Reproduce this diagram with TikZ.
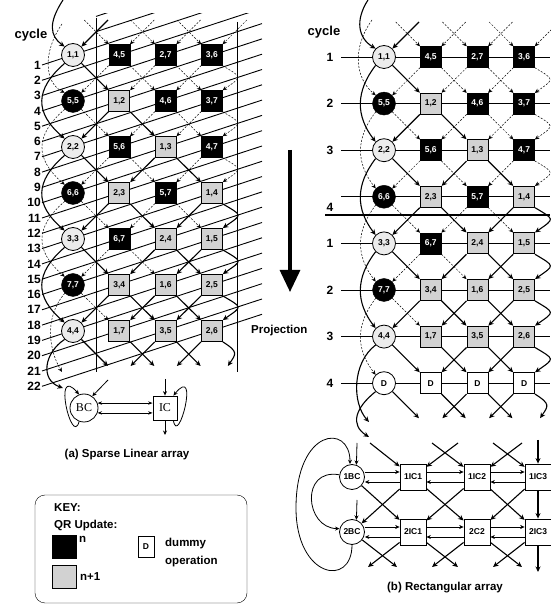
\documentclass[tikz,border=0pt]{standalone}
\usepackage{fontspec}
\setmainfont{Liberation Serif}
\setsansfont{Liberation Sans}
\usetikzlibrary{arrows.meta}
\tikzset{
  cell/.style = {align=center, inner sep=0pt, text centered,
    font=\sffamily\bfseries\fontsize{8.5}{8.5}\selectfont},
  wcirc/.style = {cell, circle, draw=black, fill=gray!15, minimum size=23pt, thick},% boundary cell, update n+1
  bcirc/.style = {cell, circle, draw=black, fill=black, text=white, minimum size=23pt},% boundary cell, update n
  dcirc/.style = {cell, circle, draw=black, fill=white, minimum size=23pt, thick},% dummy boundary cell
  bbox/.style = {cell, rectangle, draw=black, fill=black, text=white, minimum size=21pt},% internal cell, update n
  gbox/.style = {cell, rectangle, draw=black, fill=gray!35, minimum size=21pt, thick},% internal cell, update n+1
  dbox/.style = {cell, rectangle, draw=black, fill=white, minimum size=21pt, thick},% dummy internal cell
  uline/.style = {line width=1.1pt, -{Stealth[length=5.5pt,width=5pt]}},
  nline/.style = {line width=0.5pt, dash pattern=on 2pt off 1.5pt,
    -{Stealth[length=4.5pt,width=4pt]}},
  wcirc-out/.style = {uline}, dcirc-out/.style = {uline},
  gbox-out/.style = {uline}, dbox-out/.style = {uline},
  bcirc-out/.style = {nline}, bbox-out/.style = {nline},
  cyc/.style = {inner sep=1pt, font=\sffamily\bfseries\fontsize{12}{12}\selectfont},
  cline/.style = {line width=0.9pt},
  captxt/.style = {inner sep=1pt, font=\sffamily\bfseries\fontsize{11.5}{13}\selectfont},
  bcnode/.style = {circle, draw=black, thick, minimum size=25pt, inner sep=0pt,
    font=\sffamily\bfseries\fontsize{8.5}{9}\selectfont},
  icnode/.style = {rectangle, draw=black, thick, fill=white, minimum size=26pt, inner sep=0pt,
    font=\sffamily\bfseries\fontsize{8.5}{9}\selectfont},
  harr/.style = {line width=0.6pt, -{Stealth[length=4.5pt,width=4pt]}}
}
% row / kind / label for the four columns
\def\cells{1/wcirc/{1,1}/bbox/{4,5}/bbox/{2,7}/bbox/{3,6},
  2/bcirc/{5,5}/gbox/{1,2}/bbox/{4,6}/bbox/{3,7},
  3/wcirc/{2,2}/bbox/{5,6}/gbox/{1,3}/bbox/{4,7},
  4/bcirc/{6,6}/gbox/{2,3}/bbox/{5,7}/gbox/{1,4},
  5/wcirc/{3,3}/bbox/{6,7}/gbox/{2,4}/gbox/{1,5},
  6/bcirc/{7,7}/gbox/{3,4}/gbox/{1,6}/gbox/{2,5},
  7/wcirc/{4,4}/gbox/{1,7}/gbox/{3,5}/gbox/{2,6},
  8/dcirc/D/dbox/D/dbox/D/dbox/D}

\begin{document}
\begin{tikzpicture}[x=1pt, y=1pt]
  \useasboundingbox (0,0) rectangle (550,608);

  % (a) cycle lines
  \node[cyc, font=\sffamily\bfseries\fontsize{13}{12}\selectfont] (cyclea) at (31,573) {cycle};
  \begin{scope}
    \clip (0,214) rectangle (265,594);
    \foreach \k in {1,...,22} {
      \pgfmathsetmacro\yk{543-15.3*(\k-1)}
      \node[cyc, anchor=east] (cy\k) at (42,\yk) {\k};
      \draw[cline] (cy\k.east) -- ++(220,72);
    }
    \foreach \k in {0,-1} {
      \pgfmathsetmacro\yk{543-15.3*(\k-1)+18}
      \draw[cline] (96,\yk) -- ++(166,54);
    }
  \end{scope}
  \draw[cline] (96,590) -- (96,236);
  \draw[cline] (237,586) -- (237,236);

  % (b) cycle lines
  \foreach \r in {1,...,8} {
    \pgfmathsetmacro\yy{551-46.6*(\r-1)}
    \draw[cline] (341,\yy) -- (550,\yy);
  }
  \draw[line width=1.8pt] (325,393) -- (550,393);
  \node[cyc, font=\sffamily\bfseries\fontsize{13}{12}\selectfont] (cycleb) at (324,576) {cycle};
  \foreach \r/\n in {1/1,2/2,3/3,5/1,6/2,7/3,8/4} {
    \pgfmathsetmacro\yy{551-46.6*(\r-1)}
    \node[cyc] (cb\r) at (330,\yy) {\n};
  }
  \node[cyc] (cb4) at (330,401) {4};

  % cells of both arrays
  \foreach \p/\xo/\dx/\yo/\dy/\last in {L/73/46.3/553/46/7, R/384/46.7/551/46.6/8} {
    \foreach \r/\ka/\ta/\kb/\tb/\kc/\tc/\kd/\td in \cells {
      \ifnum\r>\last\else
        \pgfmathsetmacro\yy{\yo-\dy*(\r-1)}
        \node[\ka] (\p\r-0) at (\xo,\yy) {\ta};
        \node[\kb] (\p\r-1) at ({\xo+\dx},\yy) {\tb};
        \node[\kc] (\p\r-2) at ({\xo+2*\dx},\yy) {\tc};
        \node[\kd] (\p\r-3) at ({\xo+3*\dx},\yy) {\td};
      \fi
    }
  }

  % inputs at the top
  \foreach \p/\xo/\dx/\yo in {L/73/46.3/553, R/384/46.7/551} {
    \foreach \c in {0,1,2,3} {
      \coordinate (\p-i\c l) at ({\xo+\dx*\c-35},{\yo+35});
      \coordinate (\p-i\c r) at ({\xo+\dx*\c+35},{\yo+35});
    }
    \draw[uline] (\p-i0r) -- (\p1-0);
    \foreach \c in {1,2,3} {
      \draw[nline] (\p-i\c l) -- (\p1-\c);
      \draw[nline] (\p-i\c r) -- (\p1-\c);
    }
  }
  \coordinate (L-top) at (63,608);
  \coordinate (L-topd) at (62,584);
  \coordinate (R-top) at (368,608);
  \coordinate (R-topd) at (372,588);
  \draw[uline] (L-top) .. controls (48,585) and (50,572) .. (L1-0.north west);
  \draw[nline] (L-topd) .. controls (42,555) and (45,525) .. (L2-0.north west);
  \draw[uline] (R-top) .. controls (355,588) and (358,570) .. (R1-0.north west);
  \draw[nline] (R-topd) .. controls (352,560) and (355,530) .. (R2-0.north west);

  % data flow between cells
  \foreach \p/\xo/\dx/\yo/\dy/\last/\bx in {L/73/46.3/553/46/7/-30, R/384/46.7/551/46.6/8/-20} {
    \foreach \r/\ka/\ta/\kb/\tb/\kc/\tc/\kd/\td in \cells {
      \pgfmathtruncatemacro\rn{\r+1}
      \pgfmathtruncatemacro\rnn{\r+2}
      \ifnum\r<\last
        \draw[\ka-out] (\p\r-0) -- (\p\rn-1);
        \ifnum\rn<8 \draw[\kb-out] (\p\r-1) -- (\p\rn-0); \fi
        \draw[\kb-out] (\p\r-1) -- (\p\rn-2);
        \draw[\kc-out] (\p\r-2) -- (\p\rn-1);
        \draw[\kc-out] (\p\r-2) -- (\p\rn-3);
        \draw[\kd-out] (\p\r-3) -- (\p\rn-2);
        \draw[\kd-out] (\p\r-3.south east) .. controls +(20,-12) and +(20,14) .. (\p\rn-3.north east);
      \fi
      \ifnum\rnn>\last\else
        \draw[\ka-out] (\p\r-0.south west) .. controls +(\bx,-26) and +(\bx,26) .. (\p\rnn-0.north west);
      \fi
      \ifnum\r=\last
        \pgfmathsetmacro\ye{\yo-\dy*(\r-1)-35}
        \coordinate (\p-o0r) at ({\xo+35},\ye);
        \coordinate (\p-o1r) at ({\xo+\dx+35},\ye);
        \coordinate (\p-o2l) at ({\xo+2*\dx-35},\ye);
        \coordinate (\p-o2r) at ({\xo+2*\dx+35},\ye);
        \coordinate (\p-o3l) at ({\xo+3*\dx-35},\ye);
        \coordinate (\p-o3c) at ({\xo+3*\dx+16},\ye);
        \draw[\ka-out] (\p\r-0) -- (\p-o0r);
        \draw[\kb-out] (\p\r-1) -- (\p-o1r);
        \draw[\kc-out] (\p\r-2) -- (\p-o2l);
        \draw[\kc-out] (\p\r-2) -- (\p-o2r);
        \draw[\kd-out] (\p\r-3) -- (\p-o3l);
        \draw[\kd-out] (\p\r-3.south east) .. controls +(16,-10) and +(8,12) .. (\p-o3c);
      \fi
    }
  }
  \coordinate (L-c1) at (62,236);
  \coordinate (L-c2) at (63,220);
  \coordinate (R-c1) at (369,186);
  \coordinate (R-c2) at (369,171);
  \draw[nline] (L6-0.south west) .. controls (43,289) and (50,256) .. (L-c1);
  \draw[uline] (L7-0.south west) .. controls (44,255) and (40,228) .. (L-c2);
  \draw[uline] (R7-0.south west) .. controls (352,245) and (352,205) .. (R-c1);
  \draw[uline] (R8-0.south west) .. controls (355,200) and (350,183) .. (R-c2);

  % (a) sparse linear array
  \node[circle, draw=black, thick, minimum size=28pt, inner sep=0pt,
    font=\rmfamily\fontsize{12}{12}\selectfont] (BC) at (84,200) {BC};
  \node[rectangle, draw=black, thick, minimum size=24pt, inner sep=0pt,
    font=\rmfamily\fontsize{12}{12}\selectfont] (IC) at (165,200) {IC};
  \draw[line width=0.8pt, {Stealth[length=4.5pt]}-{Stealth[length=4.5pt]}] (BC.20) -- (BC.20 -| IC.west);
  \draw[line width=0.8pt, {Stealth[length=4.5pt]}-{Stealth[length=4.5pt]}] (BC.-20) -- (BC.-20 -| IC.west);
  \draw[harr, line width=0.8pt] (BC.250) .. controls (72,160) and (52,245) .. (BC.110);
  \draw[harr, line width=0.8pt] ([xshift=-4pt]IC.south east) .. controls (178,160) and (200,245) .. ([xshift=-4pt]IC.north east);
  \coordinate (BC-in) at (108,228);
  \coordinate (IC-in) at (165,229);
  \coordinate (IC-out) at (165,173);
  \draw[harr, line width=0.8pt] (BC-in) -- (BC.55);
  \draw[harr, line width=0.8pt] (IC-in) -- (IC.north);
  \draw[harr, line width=0.8pt] (IC.south) -- (IC-out);
  \node[captxt] (capa) at (127,153) {(a) Sparse Linear array};

  % projection
  \coordinate (pr-a) at (290,458);
  \coordinate (pr-b) at (290,316);
  \draw[line width=3.2pt, -{Triangle[length=22pt,width=20pt]}] (pr-a) -- (pr-b);
  \node[captxt, anchor=west] (projt) at (250,277) {Projection};

  % (b) rectangular array
  \node[bcnode] (b1BC) at (352,131) {1BC};
  \node[icnode] (b1IC1) at (413,131) {1IC1};
  \node[icnode] (b1IC2) at (477,131) {1IC2};
  \node[icnode] (b1IC3) at (538,131) {1IC3};
  \node[bcnode] (b2BC) at (352,76) {2BC};
  \node[icnode] (b2IC1) at (413,76) {2IC1};
  \node[icnode] (b2C2) at (477,76) {2C2};
  \node[icnode] (b2IC3) at (538,76) {2IC3};
  \foreach \a/\b in {b1BC/b1IC1, b1IC1/b1IC2, b1IC2/b1IC3, b2BC/b2IC1, b2IC1/b2C2, b2C2/b2IC3} {
    \draw[harr] ([yshift=5pt]\a.east) -- ([yshift=5pt]\b.west);
    \draw[harr] ([yshift=-5pt]\b.west) -- ([yshift=-5pt]\a.east);
  }
  \foreach \a/\b in {b1BC/b2IC1, b1IC1/b2BC, b1IC1/b2C2, b1IC2/b2IC1, b1IC2/b2IC3, b1IC3/b2C2, b1IC3/b2IC3}
    \draw[uline] (\a) -- (\b);
  \foreach \n/\x/\y in {1l/370/165, 1r/458/165, 2l/432/165, 2r/522/165, 3l/493/165, 3c/538/168,
      0/357/165, m/357/108}
    \coordinate (b-i\n) at (\x,\y);
  \foreach \n/\b in {1l/b1IC1, 1r/b1IC1, 2l/b1IC2, 2r/b1IC2, 3l/b1IC3, 3c/b1IC3}
    \draw[uline] (b-i\n) -- (\b);
  \draw[harr, line width=0.8pt] (b-i0) -- (b1BC.70);
  \draw[harr, line width=0.8pt] (b-im) -- (b2BC.70);
  \foreach \n/\x/\y in {0r/397/41, 1l/368/41, 1r/458/41, 2l/432/41, 2r/522/41, 3l/493/41, 3c/538/36}
    \coordinate (b-o\n) at (\x,\y);
  \foreach \a/\n in {b2BC/0r, b2IC1/1l, b2IC1/1r, b2C2/2l, b2C2/2r, b2IC3/3l, b2IC3/3c}
    \draw[uline] (\a) -- (b-o\n);
  \draw[harr, line width=0.8pt] (b2BC.south) .. controls (352,20) and (296,30) .. (296,100)
    .. controls (296,180) and (350,185) .. ([xshift=-2pt]b1BC.north);
  \draw[harr, line width=0.8pt] (b1BC.170) .. controls (300,140) and (305,80) .. (b2BC.165);
  \node[captxt] (capb) at (445,20) {(b) Rectangular array};

  % key
  \node[draw=black, rounded corners=10pt, minimum width=212pt, minimum height=108pt] (key) at (141,59) {};
  \node[captxt, anchor=west] (keyt) at (53,100) {KEY:};
  \node[captxt, anchor=west] (keyqr) at (53,82) {QR Update:};
  \node[bbox, minimum width=24pt, minimum height=23pt] (keyn) at (64,61) {};
  \node[captxt, anchor=north west] (keynt) at (78,73) {n};
  \node[gbox, minimum width=24pt, minimum height=23pt] (keyn1) at (64,31) {};
  \node[captxt, anchor=west] (keyn1t) at (79,31) {n+1};
  \node[dbox, minimum width=16pt, minimum height=21pt] (keyd) at (146,61) {D};
  \node[captxt, anchor=west] (keydt) at (164,64) {dummy};
  \node[captxt, anchor=west] (keyot) at (164,46) {operation};
\end{tikzpicture}
\end{document}
